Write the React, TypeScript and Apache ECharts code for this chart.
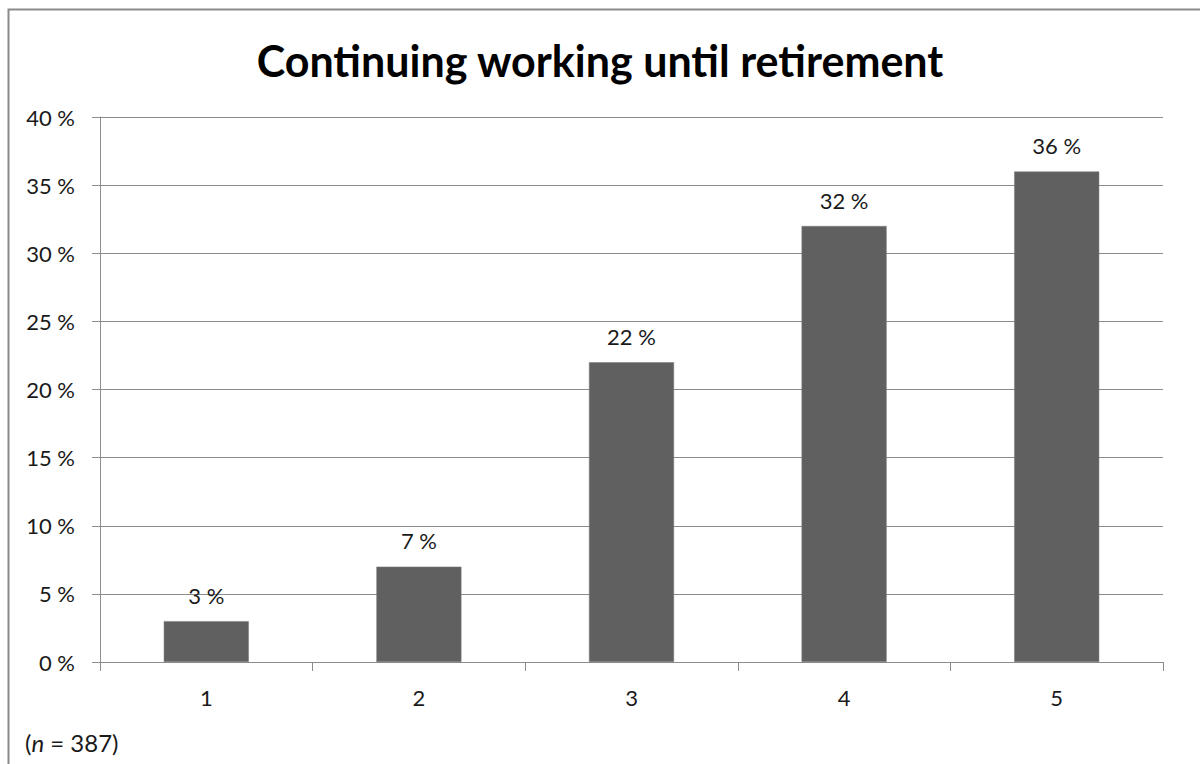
import React, { useEffect, useRef } from "react";
import * as echarts from "echarts";

const categories = ["1", "2", "3", "4", "5"];
const values = [3, 7, 22, 32, 36];
const titleText = "Continuing working until retirement";
const noteN = "387";

export default function App() {
  const ref = useRef<HTMLDivElement>(null);
  useEffect(() => {
    const chart = echarts.init(ref.current!, null, { renderer: "svg" });
    const font = "Lato, 'Open Sans', sans-serif";
    chart.setOption({
      animation: false,
      backgroundColor: "#ffffff",
      title: {
        text: titleText,
        left: "center",
        top: 34,
        textStyle: { fontFamily: font, fontSize: 43, fontWeight: "bold", color: "#000" },
      },
      grid: { left: 100, right: 37, top: 117, bottom: 102 },
      xAxis: {
        type: "category",
        data: categories,
        boundaryGap: true,
        axisLine: { lineStyle: { color: "#8c8c8c", width: 1 } },
        axisTick: { show: true, alignWithLabel: false, length: 9, lineStyle: { color: "#8c8c8c" } },
        axisLabel: { fontFamily: font, fontSize: 22, color: "#1a1a1a", margin: 24 },
      },
      yAxis: {
        type: "value",
        min: 0,
        max: 40,
        interval: 5,
        axisLine: { show: true, lineStyle: { color: "#8c8c8c", width: 1 } },
        axisTick: { show: true, length: 8, lineStyle: { color: "#8c8c8c" } },
        splitLine: { lineStyle: { color: "#8c8c8c", width: 1 } },
        axisLabel: { formatter: "{value} %", fontFamily: font, fontSize: 22, color: "#1a1a1a", margin: 25 },
      },
      series: [
        {
          type: "bar",
          data: values,
          barWidth: "40%",
          itemStyle: { color: "#606060", borderColor: "#7a7a7a", borderWidth: 0.5 },
          label: {
            show: true,
            position: "top",
            distance: 15,
            formatter: "{c} %",
            fontFamily: font,
            fontSize: 22,
            color: "#1a1a1a",
          },
        },
      ],
      graphic: [
        {
          type: "rect",
          shape: { x: 8.5, y: 9.5, width: 1300, height: 900 },
          style: { fill: "none", stroke: "#8a8a8a", lineWidth: 2 },
          silent: true,
        },
        {
          type: "text",
          x: 25,
          y: 742,
          style: {
            text: "({i|n} = " + noteN + ")",
            rich: {
              i: { fontStyle: "italic", fontFamily: font, fontSize: 24, fill: "#1a1a1a" },
            },
            fontFamily: font,
            fontSize: 24,
            fill: "#1a1a1a",
            verticalAlign: "middle",
          },
        },
      ],
    });
    return () => chart.dispose();
  }, []);
  return (
    <div
      ref={ref}
      style={{ position: "absolute", left: 0, top: 0, width: 1200, height: 764 }}
    />
  );
}
